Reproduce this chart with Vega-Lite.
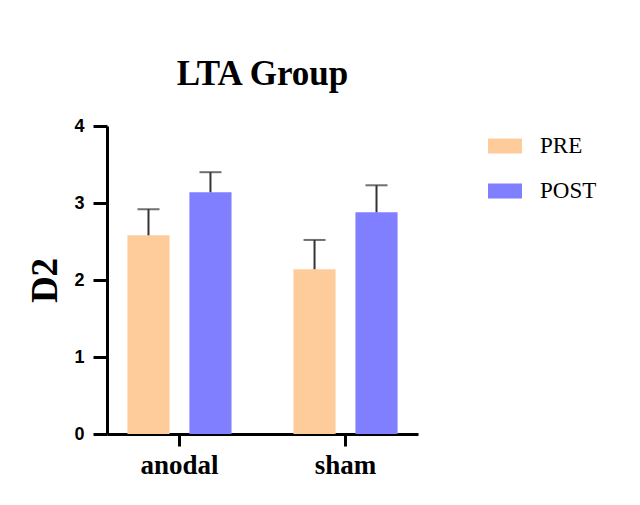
{
  "$schema": "https://vega.github.io/schema/vega-lite/v6.json",
  "autosize": {"type": "none"},
  "padding": {"left": 107, "top": 126, "right": 222, "bottom": 71},
  "width": 311,
  "height": 308,
  "background": "white",
  "title": {
    "text": "LTA Group",
    "font": "Liberation Serif",
    "fontSize": 35,
    "fontWeight": "bold",
    "color": "black",
    "anchor": "middle",
    "frame": "group",
    "baseline": "alphabetic",
    "offset": -3
  },
  "config": {
    "view": {"stroke": null},
    "legend": {
      "title": null,
      "orient": "none",
      "legendX": 381,
      "legendY": 3,
      "symbolType": "M-1,-0.44L1,-0.44L1,0.44L-1,0.44Z",
      "symbolSize": 1156,
      "symbolStrokeWidth": 0,
      "symbolOpacity": 1,
      "labelFont": "Liberation Serif",
      "labelFontSize": 23,
      "labelColor": "black",
      "labelOffset": 18,
      "rowPadding": 16
    }
  },
  "data": {
    "values": [
      {"group": "anodal", "time": "PRE", "value": 2.58, "upper": 2.92},
      {"group": "anodal", "time": "POST", "value": 3.14, "upper": 3.40},
      {"group": "sham", "time": "PRE", "value": 2.14, "upper": 2.52},
      {"group": "sham", "time": "POST", "value": 2.88, "upper": 3.23}
    ]
  },
  "encoding": {
    "x": {
      "field": "group",
      "type": "nominal",
      "sort": ["anodal", "sham"],
      "scale": {"paddingInner": 0.373, "paddingOuter": 0.123},
      "axis": {
        "title": null,
        "labelAngle": 0,
        "labelFont": "Liberation Serif",
        "labelFontSize": 27,
        "labelFontWeight": "bold",
        "labelColor": "black",
        "labelPadding": 6,
        "domainColor": "black",
        "domainWidth": 3,
        "tickColor": "black",
        "tickWidth": 3,
        "tickSize": 12
      }
    },
    "xOffset": {
      "field": "time",
      "type": "nominal",
      "sort": ["PRE", "POST"],
      "scale": {"paddingInner": 0.32, "paddingOuter": 0}
    }
  },
  "layer": [
    {
      "mark": {"type": "bar"},
      "encoding": {
        "y": {
          "field": "value",
          "type": "quantitative",
          "scale": {"domain": [0, 4], "nice": false},
          "axis": {
            "title": "D2",
            "titleFont": "Liberation Serif",
            "titleFontSize": 37,
            "titleFontWeight": "bold",
            "titleColor": "black",
            "titlePadding": 9,
            "values": [0, 1, 2, 3, 4],
            "format": "d",
            "grid": false,
            "labelFont": "Liberation Sans",
            "labelFontSize": 18,
            "labelFontWeight": "bold",
            "labelColor": "black",
            "labelPadding": 9,
            "domainColor": "black",
            "domainWidth": 3,
            "tickColor": "black",
            "tickWidth": 3,
            "tickSize": 14
          }
        },
        "color": {
          "field": "time",
          "type": "nominal",
          "sort": ["PRE", "POST"],
          "scale": {"domain": ["PRE", "POST"], "range": ["#FECC9A", "#7F7FFF"]}
        }
      }
    },
    {
      "mark": {"type": "rule", "color": "#333333", "strokeWidth": 2},
      "encoding": {
        "y": {"field": "value", "type": "quantitative"},
        "y2": {"field": "upper"}
      }
    },
    {
      "mark": {"type": "tick", "color": "#333333", "thickness": 2, "size": 22, "orient": "horizontal"},
      "encoding": {
        "y": {"field": "upper", "type": "quantitative"}
      }
    }
  ]
}
